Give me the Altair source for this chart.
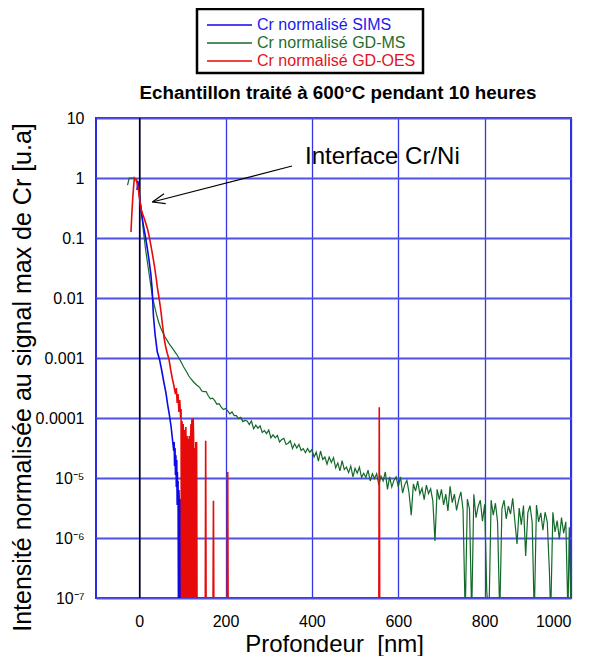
import altair as alt
import pandas as pd

FONT = "Liberation Sans"
F = -7.3  # signal below detection: drawn to the bottom of the log axis

# ---- GD-MS (green): depth [nm], log10 of normalised intensity
gdms_depth = [-27, -23, -12, -6, -2, 2, 6, 10, 15, 20, 25, 30, 35, 40, 45, 50, 55, 60, 65, 70,
              75, 80, 86, 92, 98, 103, 109, 115, 120, 126, 133,
              140, 145, 150, 155, 160, 165, 170, 175, 180, 185,
              190, 195, 200, 205, 210, 215, 220, 225, 230, 235,
              240, 245, 250, 255, 260, 265, 270, 275, 280, 285,
              290, 295, 300, 305, 310, 315, 320, 325, 330, 335,
              340, 345, 350, 355, 360, 365, 370, 375, 380, 385,
              390, 395, 400, 405, 410, 415, 420, 425, 430, 435,
              440, 445, 450, 455, 460, 465, 470, 475, 480, 485,
              490, 495, 500, 505, 510, 515, 520, 525, 530, 535,
              540, 545, 550, 555, 560, 565, 570, 575, 580, 585,
              590, 595, 600, 605, 610, 615, 620, 625, 630, 635,
              640, 645, 650, 655, 660, 665, 670, 675, 680, 685,
              690, 695, 700, 705, 710, 715, 720, 725, 730, 735,
              740, 745, 750, 755, 760, 765, 770, 775, 780, 785,
              790, 795, 800, 805, 810, 815, 820, 825, 830, 835,
              840, 845, 850, 855, 860, 865, 870, 875, 880, 885,
              890, 895, 900, 905, 910, 915, 920, 925, 930, 935,
              940, 945,
              950, 953, 958, 963, 968, 973, 978, 983, 988, 993, 996, 1000]
gdms_log = [-0.12, 0.0, 0.0, -0.02, -0.15, -0.35, -0.6, -0.9, -1.2, -1.45, -1.7, -1.95, -2.12, -2.27, -2.4, -2.5, -2.58, -2.65, -2.71, -2.77,
            -2.82, -2.87, -2.93, -3.0, -3.08, -3.15, -3.22, -3.3, -3.35, -3.4, -3.45,
            -3.49, -3.55, -3.56, -3.56, -3.63, -3.68, -3.67, -3.71, -3.77, -3.76,
            -3.82, -3.86, -3.84, -3.88, -3.93, -3.90, -3.96, -3.96, -4.01, -3.99,
            -4.06, -4.04, -4.05, -4.11, -4.05, -4.18, -4.12, -4.17, -4.13, -4.24,
            -4.21, -4.26, -4.20, -4.33, -4.28, -4.33, -4.29, -4.40, -4.36, -4.34,
            -4.44, -4.42, -4.38, -4.51, -4.43, -4.50, -4.44, -4.54, -4.51, -4.58,
            -4.51, -4.57, -4.53, -4.65, -4.57, -4.72, -4.55, -4.69, -4.65, -4.77,
            -4.65, -4.74, -4.66, -4.83, -4.75, -4.88, -4.71, -4.86, -4.82, -4.91,
            -4.80, -4.98, -4.84, -4.92, -4.82, -4.99, -4.92, -4.99, -4.87, -5.05,
            -4.93, -5.01, -4.93, -5.12, -4.97, -5.05, -4.90, -5.19, -4.98, -5.15,
            -5.04, -4.98, -5.15, -4.98, -5.25, -5.11, -5.04, -5.25, -5.62, -5.10,
            -5.22, -5.05, -5.27, -5.17, -5.36, -5.12, -5.26, -5.18, -5.38, -6.05,
            -5.19, -5.36, -5.19, -5.45, -5.27, -5.55, -5.14, -5.41, -5.27, -5.54,
            -5.36, -5.23, -5.53, F, -5.35, -5.52, F, -5.27, -5.66, -5.47,
            -5.37, -5.72, -5.44, -6.9, F, -5.37, -5.62, -5.42, -5.74, F,
            -5.51, -5.37, -5.68, -5.47, -5.60, -5.34, -5.72, -6.10, -5.50, -5.78,
            -5.46, -6.30, -5.58, -5.46, -5.73, F, -5.45, -5.73, -5.58, -5.87,
            -5.57, -5.73,
            -6.55, F, -5.57, -5.90, -5.71, -6.02, -5.66, -5.92, -5.73, F, -5.82, F]

# ---- SIMS (blue)
sims_depth = [-5, -3, 0, 3, 6, 9, 12, 15, 19, 23, 27, 30, 33, 37, 42, 47, 52, 57, 62, 66,
              70, 74, 77, 80, 81, 82, 83, 84, 85, 86, 87, 88, 88.5, 89, 90, 91, 92, 93, 94, 96,
              98, 100, 101, 110, 111, 112, 115]
sims_log = [-0.2, -0.05, -0.25, -0.45, -0.62, -0.76, -0.88, -1.0, -1.18, -1.38, -1.6, -1.85, -2.3, -2.62, -2.9, -3.02, -3.2, -3.4, -3.58, -3.78,
            -3.95, -4.15, -4.35, -4.55, -4.4, -4.8, -4.5, -4.95, -4.62, -5.15, -4.7, -5.45, -4.9, -5.3, -5.05, F, -5.2, -5.45, F, -5.35,
            F, -5.5, F, F, -4.9, F, F]

# ---- GD-OES (red)
oes_depth = [-19, -17, -15, -13, -11, -8, -5, -2, 0, 4, 8, 12, 19, 23, 27, 31, 35, 39, 42, 46,
             50, 54, 58, 61, 65, 69, 73, 77, 80, 84, 86, 88, 90, 92, 94, 96, 97, 98, 99, 100,
             101, 102, 103, 104, 105, 106, 107, 108, 109, 110, 111, 112, 113, 114, 115, 116, 117, 118, 119, 120,
             121, 122, 123, 124, 125, 126, 127, 128, 129, 131, 132, 133, 134, 153, 154, 155, 171, 172, 173, 204,
             205, 206, 555, 556, 557]
oes_log = [-0.9, -0.6, -0.35, -0.15, 0.0, -0.02, -0.08, -0.18, -0.29, -0.51, -0.6, -0.68, -0.84, -0.97, -1.12, -1.28, -1.45, -1.65, -1.82, -2.0,
           -2.2, -2.45, -2.68, -2.8, -2.92, -3.02, -3.2, -3.35, -3.45, -3.6, -3.5, -3.75, -3.6, -3.9, -3.7, -4.0, -3.85, F, -4.05, -4.2,
           F, -4.1, -4.4, F, -4.2, -4.5, F, -4.15, -4.6, F, -4.3, -4.7, F, -4.35, F, -4.3, -4.6, F, -4.4, -4.1,
           F, -4.02, -4.2, F, -4.0, -4.3, F, -4.5, F, -4.4, F, -4.4, F, F, -4.38, F, F, -5.38, F, F,
           -4.9, F, F, -3.82, F]

series_names = ["Cr normalisé SIMS", "Cr normalisé GD-MS", "Cr normalisé GD-OES"]
series_colors = ["#0a0ae6", "#13692a", "#e60a0a"]
legend_text_colors = ["#1a1aee", "#1f6e2e", "#e3121c"]

x_ticks = [0, 200, 400, 600, 800, 1000]
y_ticks = [1e-7, 1e-6, 1e-5, 1e-4, 1e-3, 1e-2, 1e-1, 1, 10]
y_tick_labels = ["10⁻⁷", "10⁻⁶", "10⁻⁵", "0.0001", "0.001", "0.01", "0.1", "1", "10"]

# annotation (data coordinates)
arrow_x = [354.0, 30.6, 30.6]
arrow_y = [1.585, 0.398, 0.398]
arrow_x2 = [30.6, 57.5, 61.4]
arrow_y2 = [0.398, 0.547, 0.373]
note_x, note_y, note_text = 384, 1.73, "Interface Cr/Ni"
interface_x = 1.5

assert len(gdms_depth) == len(gdms_log)
assert len(sims_depth) == len(sims_log)
assert len(oes_depth) == len(oes_log)


def series_df(depth, logs):
    return pd.DataFrame({"depth": depth, "val": [10.0 ** v for v in logs],
                         "idx": list(range(len(depth)))})


xs = alt.Scale(domain=[-100, 1000], nice=False, zero=False)
ys = alt.Scale(type="log", domain=[1e-7, 10], nice=False)

label_expr = "[" + ",".join("'%s'" % l for l in y_tick_labels) + "][round(log(datum.value)/LN10)+7]"

x_axis = alt.Axis(values=x_ticks, format="d", title="Profondeur\u00a0 [nm]", grid=True, gridColor="#3434e2",
                  gridWidth=1.3, domain=False, ticks=False, tickSize=0, labelFontSize=16,
                  labelPadding=15, labelFont=FONT, labelColor="black", titleFont=FONT,
                  titleFontSize=24, titleFontWeight="normal", titleColor="black",
                  titleX=238, titleY=53, titleBaseline="alphabetic", titleAlign="center")
y_axis = alt.Axis(values=y_ticks, labelExpr=label_expr, title="Intensité normalisée au signal max de Cr [u.a]",
                  grid=True, gridColor="#5050e4", gridWidth=1.8, domain=False, ticks=False, tickSize=0,
                  labelFontSize=16, labelPadding=12, labelFont=FONT, labelColor="black",
                  titleFont=FONT, titleFontSize=25, titleFontWeight="normal", titleColor="black",
                  titleAngle=270, titleX=-74, titleY=259, titleAlign="center", titleBaseline="middle")

X = alt.X("depth:Q", scale=xs, axis=x_axis)
Y = alt.Y("val:Q", scale=ys, axis=y_axis)

interface = alt.Chart(pd.DataFrame({"depth": [interface_x], "val": [1e-7], "val2": [10.0]})).mark_rule(
    color="black", strokeWidth=1.5).encode(x=X, y=Y, y2="val2:Q")


def line(depth, logs, color, width):
    return alt.Chart(series_df(depth, logs)).mark_line(color=color, strokeWidth=width, clip=True).encode(
        x=X, y=Y, order=alt.Order("idx:Q"))


green = line(gdms_depth, gdms_log, series_colors[1], 1.2)
blue = line(sims_depth, sims_log, series_colors[0], 1.6)
red = line(oes_depth, oes_log, series_colors[2], 1.6)

arrow = alt.Chart(pd.DataFrame({"depth": arrow_x, "val": arrow_y, "d2": arrow_x2, "v2": arrow_y2})).mark_rule(
    color="black", strokeWidth=1.2).encode(x=X, y=Y, x2="d2:Q", y2="v2:Q")
note = alt.Chart(pd.DataFrame({"depth": [note_x], "val": [note_y], "t": [note_text]})).mark_text(
    align="left", baseline="alphabetic", fontSize=24, font=FONT, color="black").encode(x=X, y=Y, text="t:N")

dummy = pd.DataFrame({"a": [0]})
title = alt.Chart(dummy).mark_text(text="Echantillon traité à 600°C pendant 10 heures", fontSize=18.8,
                                   fontWeight="bold", font=FONT, color="black", align="center",
                                   baseline="middle").encode(x=alt.value(242), y=alt.value(-25))

legend_box = alt.Chart(dummy).mark_rect(fill="white", stroke="black", strokeWidth=2.5).encode(
    x=alt.value(101), x2=alt.value(327), y=alt.value(-109), y2=alt.value(-45))
legend_layers = [legend_box]
for i, (name, col, tcol) in enumerate(zip(series_names, series_colors, legend_text_colors)):
    yy = -93 + 18 * i
    legend_layers.append(alt.Chart(dummy).mark_rule(color=col, strokeWidth=1.4).encode(
        x=alt.value(111), x2=alt.value(156), y=alt.value(yy)))
    legend_layers.append(alt.Chart(dummy).mark_text(text=name, fontSize=16, font=FONT, color=tcol,
                                                    align="left", baseline="middle").encode(
        x=alt.value(161), y=alt.value(yy)))

chart = alt.layer(interface, green, blue, red, arrow, note, title, *legend_layers).properties(
    width=475, height=480,
    padding={"left": 88, "top": 110, "right": 19, "bottom": 58},
    autosize=alt.AutoSizeParams(type="none"),
).configure_view(stroke="#2a2ae0", strokeWidth=2)

chart.save("out.html", embed_options={"renderer": "svg", "actions": False})
